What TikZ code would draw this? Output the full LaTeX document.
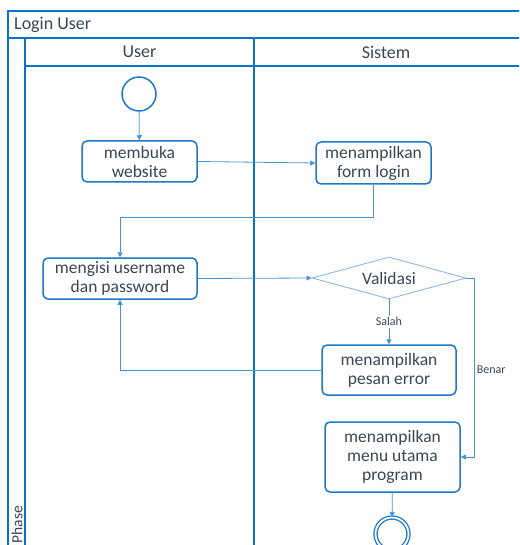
\documentclass[tikz,border=0pt]{standalone}
\usepackage{fontspec}
\setmainfont{Carlito}
\usetikzlibrary{shapes.geometric,arrows.meta,positioning}
\definecolor{lane}{HTML}{0A72C8}
\definecolor{boxblue}{HTML}{1E78C8}
\definecolor{flowblue}{HTML}{4A92D6}
\definecolor{diablue}{HTML}{8DB8E6}
\definecolor{txt}{HTML}{3A4656}
\tikzset{
  act/.style={draw=boxblue, line width=1.5pt, rounded corners=5pt, align=center,
    text=txt, inner sep=0pt, font=\fontsize{17.5}{19}\selectfont},
  flow/.style={draw=flowblue, line width=0.8pt, -{Triangle[length=5pt,width=5pt]}},
  lbl/.style={text=txt, font=\fontsize{12}{13}\selectfont, inner sep=2pt},
  head/.style={text=txt, font=\fontsize{18}{20}\selectfont, inner sep=0pt}
}
\begin{document}
\begin{tikzpicture}[x=1pt, y=-1pt]
\useasboundingbox (0,0) rectangle (519,545);
\begin{scope}
\clip (0,0) rectangle (519,545);

% swimlane frame
\draw[lane, line width=1.8pt] (8,560) -- (8,11) -- (530,11);
\draw[lane, line width=1.8pt] (8,38) -- (530,38);
\draw[lane, line width=1.8pt] (25,38) -- (25,560);
\draw[lane, line width=1.8pt] (25,66) -- (530,66);
\draw[lane, line width=1.8pt] (254,38) -- (254,560);

\node[head, anchor=west] (title) at (14,24.5) {Login User};
\node[head] (user) at (139.5,52) {User};
\node[head] (sistem) at (386,52) {Sistem};
\node[head, rotate=90, anchor=west, font=\fontsize{15.5}{17}\selectfont] (phase) at (17,543.5) {Phase};

% activities
\node[draw=boxblue, line width=1.5pt, circle, minimum size=34pt] (start) at (139,94) {};
\node[act, minimum width=115pt, minimum height=41pt] (buka) at (139.5,161.5) {membuka\\website};
\node[act, minimum width=115pt, minimum height=42pt] (form) at (373.5,163) {menampilkan\\form login};
\node[act, minimum width=154pt, minimum height=41pt] (isi) at (120,278.5) {mengisi username\\dan password};
\node[draw=diablue, line width=0.9pt, diamond, shape aspect=3.6, inner sep=0pt,
  minimum width=154pt, minimum height=42pt, text=txt,
  font=\fontsize{17.5}{19}\selectfont] (valid) at (389,278) {Validasi};
\node[act, minimum width=134pt, minimum height=50pt] (error) at (389,370) {menampilkan\\pesan error};
\node[act, minimum width=135pt, minimum height=70pt] (menu) at (392.5,457) {menampilkan\\menu utama\\program};
\node[draw=boxblue, line width=1.3pt, double=white, double distance=1.8pt,
  circle, minimum size=33pt] (end) at (392,534) {};

% connectors
\draw[flow] (start) -- (buka);
\draw[flow] (buka.east) -- (form.west);
\draw[flow] (form.south) -- ++(0,33) -| (isi.north);
\draw[flow] (isi.east) -- (valid.west);
\draw[flow] (valid.south) -- node[lbl, fill=white] {Salah} (error.north);
\draw[flow] (error.west) -| (isi.south);
\draw[flow] (valid.east) -- ++(8,0) |- node[pos=0.255, right, lbl] {Benar} (menu.east);
\draw[flow] (menu) -- (end);
\end{scope}
\end{tikzpicture}
\end{document}
